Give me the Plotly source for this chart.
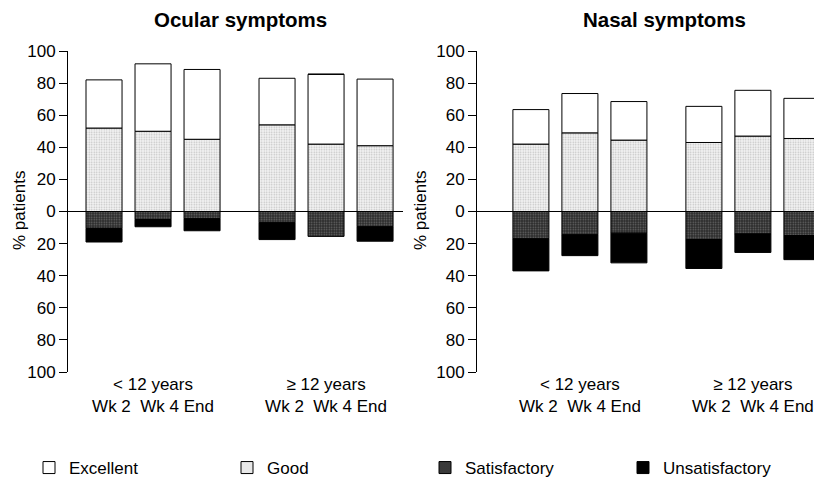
import plotly.graph_objects as go

# ---- data (% patients) ----
groups = ["< 12 years", "\u2265 12 years"]
visits = ["Wk 2", "Wk 4", "End"]
panel_titles = ["Ocular symptoms", "Nasal symptoms"]
categories = ["Excellent", "Good", "Satisfactory", "Unsatisfactory"]

ocular_excellent = [30, 42, 43.5, 29, 43.5, 41.5]
ocular_good = [52, 50, 45, 54, 42, 41]
ocular_satisfactory = [10.5, 5, 4.5, 7, 15.5, 9.5]
ocular_unsatisfactory = [8.5, 4.5, 7.5, 10.5, 0, 9]

nasal_excellent = [21.5, 24.5, 24, 22.5, 28.5, 25]
nasal_good = [42, 49, 44.5, 43, 47, 45.5]
nasal_satisfactory = [17, 14.5, 13.5, 17.5, 14, 15]
nasal_unsatisfactory = [20, 13, 18.5, 18, 11.5, 15]

y_ticks = [-100, -80, -60, -40, -20, 0, 20, 40, 60, 80, 100]

# ---- layout helpers ----
GROUP_STEP = 3.53
xpos = [g * GROUP_STEP + i for g in range(len(groups)) for i in range(len(visits))]
group_centers = [g * GROUP_STEP + 1 for g in range(len(groups))]
group_text = [f"{g}<br>{visits[0]}  {visits[1]} {visits[2]}" for g in groups]

FONT = "Liberation Sans, Arial, Helvetica, sans-serif"
FS = 17

styles = {
    "Excellent": dict(color="white", pattern=None),
    "Good": dict(color="white", pattern=dict(shape=".", fgcolor="#8a8a8a", bgcolor="#f4f4f4", size=2.5, solidity=0.3)),
    "Satisfactory": dict(color="#555555", pattern=dict(shape=".", fgcolor="#b0b0b0", bgcolor="#2a2a2a", size=2.5, solidity=0.3)),
    "Unsatisfactory": dict(color="black", pattern=None),
}
ranks = {c: i for i, c in enumerate(categories)}

panels = [
    dict(exc=ocular_excellent, good=ocular_good, sat=ocular_satisfactory, uns=ocular_unsatisfactory),
    dict(exc=nasal_excellent, good=nasal_good, sat=nasal_satisfactory, uns=nasal_unsatisfactory),
]

fig = go.Figure()
for p, d in enumerate(panels):
    xa = "x" if p == 0 else "x2"
    ya = "y" if p == 0 else "y2"
    series = [
        ("Good", d["good"], 1),
        ("Excellent", d["exc"], 1),
        ("Satisfactory", d["sat"], -1),
        ("Unsatisfactory", d["uns"], -1),
    ]
    for name, vals, sign in series:
        st = styles[name]
        marker = dict(color=st["color"], line=dict(color="black", width=1))
        if st["pattern"] is not None:
            marker["pattern"] = st["pattern"]
        fig.add_trace(go.Bar(
            x=xpos, y=[sign * v for v in vals], name=name,
            marker=marker, width=0.735, xaxis=xa, yaxis=ya,
            showlegend=(p == 0), legendrank=ranks[name] + 1,
        ))

# page body has an 8px margin, so the figure is 8px smaller and coordinates are offset
OFF = 8
W, H = 822 - OFF, 483 - OFF
y_top, y_bot = 51 - OFF, 372 - OFF

yaxis_common = dict(
    range=[-100, 100], tickvals=y_ticks, ticktext=[str(abs(v)) for v in y_ticks],
    showline=True, linecolor="black", linewidth=1, ticks="outside", ticklen=8,
    tickcolor="black", tickwidth=1, showgrid=False, zeroline=True,
    zerolinecolor="black", zerolinewidth=1, tickfont=dict(size=FS, color="black"),
    domain=[1 - y_bot / H, 1 - y_top / H], fixedrange=True, automargin=False,
)
xaxis_common = dict(
    tickvals=group_centers, ticktext=group_text, showline=False, showgrid=False,
    zeroline=False, ticks="", tickfont=dict(size=FS, color="black"), fixedrange=True,
    automargin=False,
)

def px(x):
    return (x - OFF) / W

def py(y):
    return 1 - (y - OFF) / H

fig.update_layout(
    width=W, height=H,
    margin=dict(l=0, r=0, t=0, b=0, autoexpand=False),
    paper_bgcolor="white", plot_bgcolor="white",
    font=dict(family=FONT, color="black"),
    barmode="relative",
    xaxis=dict(xaxis_common, domain=[px(68), px(403)], range=[-0.735, 6.1], anchor="y"),
    yaxis=dict(yaxis_common, anchor="x"),
    xaxis2=dict(xaxis_common, domain=[px(477), 1.0], range=[-1.1, 5.94], anchor="y2"),
    yaxis2=dict(yaxis_common, anchor="x2"),
    legend=dict(
        orientation="h", x=px(29), y=py(468), xanchor="left", yanchor="middle",
        entrywidth=153, entrywidthmode="pixels", font=dict(size=FS, color="black"),
        traceorder="normal", bgcolor="rgba(0,0,0,0)",
    ),
    annotations=[
        dict(text=f"<b>{panel_titles[0]}</b>", x=px(240), y=py(19), xref="paper", yref="paper",
             showarrow=False, font=dict(size=20.5), xanchor="center", yanchor="middle"),
        dict(text=f"<b>{panel_titles[1]}</b>", x=px(664), y=py(19), xref="paper", yref="paper",
             showarrow=False, font=dict(size=20.5), xanchor="center", yanchor="middle"),
        dict(text="% patients", x=px(19), y=py(211), xref="paper", yref="paper", textangle=-90,
             showarrow=False, font=dict(size=FS), xanchor="center", yanchor="middle"),
        dict(text="% patients", x=px(420), y=py(211), xref="paper", yref="paper", textangle=-90,
             showarrow=False, font=dict(size=FS), xanchor="center", yanchor="middle"),
    ],
)

fig.write_html("out.html")
